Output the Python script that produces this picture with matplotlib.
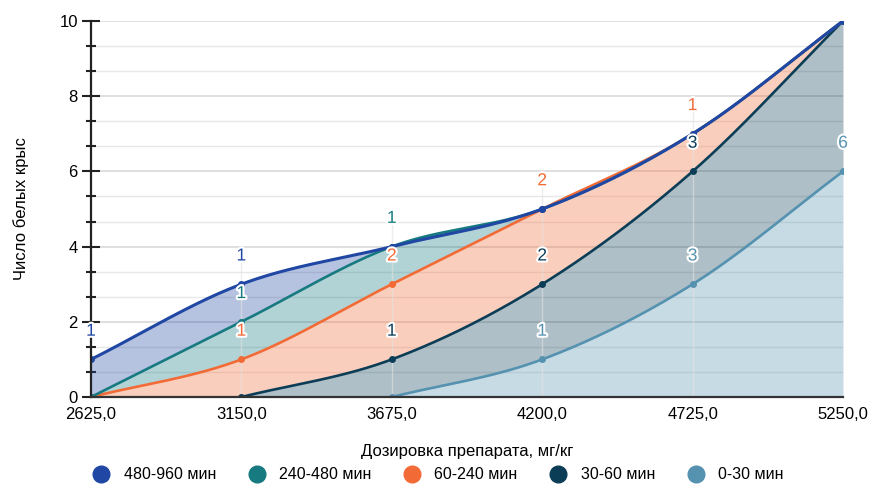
import numpy as np
import matplotlib
matplotlib.use("Agg")
import matplotlib.pyplot as plt
import matplotlib.patheffects as pe
from matplotlib.lines import Line2D

plt.rcParams['font.family'] = ['Liberation Sans', 'DejaVu Sans']

doses = [2625.0, 3150.0, 3675.0, 4200.0, 4725.0, 5250.0]
dose_labels = ["2625,0", "3150,0", "3675,0", "4200,0", "4725,0", "5250,0"]

# bottom -> top (stacked increments); None = no data
series_names = ["0-30 мин", "30-60 мин", "60-240 мин", "240-480 мин", "480-960 мин"]
s_0_30    = [None, None, 0, 1, 3, 6]
s_30_60   = [None, 0, 1, 2, 3, 4]
s_60_240  = [0, 1, 2, 2, 1, 0]
s_240_480 = [0, 1, 1, 0, 0, 0]
s_480_960 = [1, 1, 0, 0, 0, 0]
series_vals = [s_0_30, s_30_60, s_60_240, s_240_480, s_480_960]
colors = ["#5592b0", "#0c3d57", "#f26b36", "#167a80", "#1f47a3"]

# cumulative totals
cums = []
run = np.zeros(len(doses))
for vals in series_vals:
    v = np.array([np.nan if x is None else x for x in vals], float)
    run = run + np.nan_to_num(v)
    c = run.copy()
    c[np.isnan(v)] = np.nan
    cums.append(c)


def spline(x, y, n=60):
    x = np.asarray(x, float); y = np.asarray(y, float)
    ok = ~np.isnan(y)
    xs, ys = x[ok], y[ok]
    m = len(xs)
    h = xs[1] - xs[0]
    t = np.zeros(m)
    for i in range(m):
        if i == 0:
            t[i] = (ys[1] - ys[0])
        elif i == m - 1:
            t[i] = (ys[-1] - ys[-2])
        else:
            t[i] = (ys[i + 1] - ys[i - 1]) / 2
    X, Y = [], []
    for i in range(m - 1):
        s = np.linspace(0, 1, n)
        h00 = 2*s**3 - 3*s**2 + 1
        h10 = s**3 - 2*s**2 + s
        h01 = -2*s**3 + 3*s**2
        h11 = s**3 - s**2
        yy = h00*ys[i] + h10*t[i] + h01*ys[i+1] + h11*t[i+1]
        xx = xs[i] + s*h
        X.append(xx if i == 0 else xx[1:]); Y.append(yy if i == 0 else yy[1:])
    return np.concatenate(X), np.concatenate(Y)

fig = plt.figure(figsize=(8.69, 4.88), dpi=100)
ax = fig.add_axes([91/869, 1-397/488, (843-91)/869, (397-21)/488])
ax.set_xlim(2625, 5250)
ax.set_ylim(0, 10)

# grid
for yv in np.arange(0, 10.01, 2/3):
    major = abs(yv/2 - round(yv/2)) < 1e-6
    ax.axhline(yv, color="#d9d9d9" if major else "#e8e8e8", lw=1.2 if major else 1.0, zorder=0)

grid_x = np.linspace(2625, 5250, 1500)
curves = []
for c in cums:
    xx, yy = spline(doses, c)
    g = np.interp(grid_x, xx, yy, left=np.nan, right=np.nan)
    curves.append((xx, yy, g))

lower = np.zeros_like(grid_x)
for i, (xx, yy, g) in enumerate(curves):
    ok = ~np.isnan(g)
    ax.fill_between(grid_x, np.where(ok, lower, np.nan), g, where=ok,
                    color=colors[i], alpha=0.33, lw=0, zorder=1 + i)
    lower = np.where(ok, g, lower)

# faint connector lines
for j, x in enumerate(doses[1:-1], start=1):
    top = max(c[j] for c in cums if not np.isnan(c[j]))
    ax.plot([x, x], [0, top + 0.9], color="#e2e2e2", lw=1, zorder=6, alpha=0.6)

for i, (xx, yy, g) in enumerate(curves):
    ax.plot(xx, yy, color=colors[i], lw=2.2 if i == 4 else 1.9, zorder=10 + i, solid_capstyle='round')
    c = cums[i]
    ok = ~np.isnan(c)
    ax.plot(np.array(doses)[ok], c[ok], 'o', ms=4, color=colors[i], zorder=10 + i)

# data labels
for i, vals in enumerate(series_vals):
    for j, v in enumerate(vals):
        if v is None or v == 0:
            continue
        y = cums[i][j] + 0.75
        if y > 10:
            continue
        ax.text(doses[j], y, str(v), ha='center', va='center', fontsize=12.5,
                color=colors[i], zorder=60, clip_on=False,
                path_effects=[pe.withStroke(linewidth=3, foreground='white')])

for s in ['top', 'right']:
    ax.spines[s].set_visible(False)
ax.spines['left'].set_color('#222222'); ax.spines['left'].set_linewidth(1.6)
ax.spines['bottom'].set_color('#333333'); ax.spines['bottom'].set_linewidth(1.6)
ax.spines['left'].set_zorder(40); ax.spines['bottom'].set_zorder(40)

ax.set_yticks(np.arange(0, 11, 2))
ax.set_yticks(np.arange(0, 10.01, 2/3), minor=True)
ax.tick_params(axis='y', which='major', direction='inout', length=13, width=1.5,
               color='#222222', labelsize=12, pad=3)
ax.tick_params(axis='y', which='minor', direction='inout', length=7, width=1.5, color='#222222')
ax.set_xticks(doses)
ax.set_xticklabels(dose_labels)
ax.tick_params(axis='x', length=0, labelsize=12, pad=7)

ax.set_ylabel("Число белых крыс", fontsize=12, labelpad=22)
ax.set_xlabel("Дозировка препарата, мг/кг", fontsize=12, labelpad=16)

handles = [Line2D([], [], marker='o', ls='', ms=12, color=colors[i]) for i in [4, 3, 2, 1, 0]]
labels = [series_names[i] for i in [4, 3, 2, 1, 0]]
fig.legend(handles, labels, loc='lower center', bbox_to_anchor=(0.5, -0.018), ncol=5,
           frameon=False, fontsize=11.5, handletextpad=0.4, columnspacing=1.55)

fig.savefig("out.png", dpi=100)
